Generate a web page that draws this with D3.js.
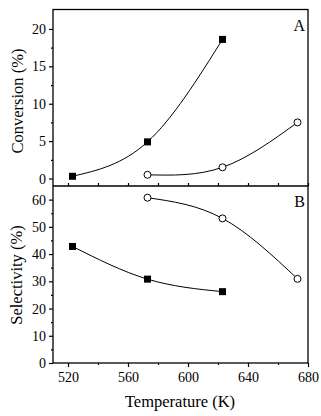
<!DOCTYPE html>
<html>
<head>
<meta charset="utf-8">
<script src="https://cdn.jsdelivr.net/npm/d3@7"></script>
<style>
  body { margin: 0; background: #fff; }
  svg { display: block; font-family: "Liberation Serif", "Times New Roman", serif; }
</style>
</head>
<body>
<svg width="321" height="416"></svg>
<script>
"use strict";

// temperatures (K) for each series
const tempSquare = [523, 573, 623];
const tempCircle = [573, 623, 673];
// panel A: conversion (%)
const convSquare = [0.3, 4.9, 18.6];
const convCircle = [0.5, 1.5, 7.5];
// panel B: selectivity (%)
const selSquare = [42.8, 30.8, 26.2];
const selCircle = [60.7, 53.1, 30.9];
// ticks
const xTicks = [520, 560, 600, 640, 680];
const xMinor = [540, 580, 620, 660];
const convTicks = [0, 5, 10, 15, 20];
const convMinor = [2.5, 7.5, 12.5, 17.5];
const selTicks = [0, 10, 20, 30, 40, 50, 60];
const selMinor = [5, 15, 25, 35, 45, 55];

const svg = d3.select("svg");
const padL = 53, padR = 308, padT = 9.5, midY = 186, padB = 363;

const x = d3.scaleLinear().domain([510, 680]).range([padL, padR]);
const yA = d3.scaleLinear().domain([-1, 22.6]).range([midY, padT]);
const yB = d3.scaleLinear().domain([0, 65]).range([padB, midY]);

// 축 그리기 helper
function drawAxis(axis, tx, ty, size) {
  const g = svg.append("g").attr("transform", `translate(${tx},${ty})`).call(axis);
  g.select(".domain").remove();
  g.selectAll("line").attr("stroke", "#000").attr("stroke-width", 1.2);
  g.selectAll("text").attr("font-size", size || 14).attr("fill", "#000")
    .attr("font-family", "Liberation Serif, Times New Roman, serif");
  return g;
}

// panel A left axis
drawAxis(d3.axisLeft(yA).tickValues(convTicks).tickSize(4).tickPadding(3), padL, 0);
drawAxis(d3.axisLeft(yA).tickValues(convMinor).tickSize(2).tickFormat(""), padL, 0);
// panel A bottom ticks (inward, no labels)
drawAxis(d3.axisTop(x).tickValues(xTicks.concat(xMinor)).tickSize(3).tickFormat(""), 0, midY);

// panel B left axis
drawAxis(d3.axisLeft(yB).tickValues(selTicks).tickSize(4).tickPadding(3), padL, 0);
drawAxis(d3.axisLeft(yB).tickValues(selMinor).tickSize(2).tickFormat(""), padL, 0);
// bottom x axis
drawAxis(d3.axisBottom(x).tickValues(xTicks).tickSize(4).tickPadding(5), 0, padB);
drawAxis(d3.axisBottom(x).tickValues(xMinor).tickSize(2).tickFormat(""), 0, padB);

// frame
svg.append("rect").attr("x", padL).attr("y", padT)
  .attr("width", padR - padL).attr("height", padB - padT)
  .attr("fill", "none").attr("stroke", "#000").attr("stroke-width", 1.3);
svg.append("line").attr("x1", padL).attr("x2", padR).attr("y1", midY).attr("y2", midY)
  .attr("stroke", "#000").attr("stroke-width", 1.3);

// series
function drawSeries(temps, vals, yScale, shape) {
  const pts = temps.map((t, i) => [x(t), yScale(vals[i])]);
  svg.append("path")
    .attr("d", d3.line().curve(d3.curveNatural)(pts))
    .attr("fill", "none").attr("stroke", "#000").attr("stroke-width", 1);
  if (shape === "square") {
    svg.selectAll(null).data(pts).enter().append("rect")
      .attr("x", (d) => d[0] - 3.5).attr("y", (d) => d[1] - 3.5)
      .attr("width", 7).attr("height", 7).attr("fill", "#000");
  } else {
    svg.selectAll(null).data(pts).enter().append("circle")
      .attr("cx", (d) => d[0]).attr("cy", (d) => d[1]).attr("r", 3.5)
      .attr("fill", "#fff").attr("stroke", "#000").attr("stroke-width", 1);
  }
}
drawSeries(tempSquare, convSquare, yA, "square");
drawSeries(tempCircle, convCircle, yA, "circle");
drawSeries(tempSquare, selSquare, yB, "square");
drawSeries(tempCircle, selCircle, yB, "circle");

// labels
svg.append("text").attr("x", 305).attr("y", 31).attr("text-anchor", "end")
  .attr("font-size", 16).text("A");
svg.append("text").attr("x", 305).attr("y", 207).attr("text-anchor", "end")
  .attr("font-size", 16).text("B");
svg.append("text").attr("transform", "translate(23,101) rotate(-90)")
  .attr("text-anchor", "middle").attr("font-size", 16.5).text("Conversion (%)");
svg.append("text").attr("transform", "translate(22,275) rotate(-90)")
  .attr("text-anchor", "middle").attr("font-size", 16.5).text("Selectivity (%)");
svg.append("text").attr("x", 180).attr("y", 407)
  .attr("text-anchor", "middle").attr("font-size", 16.5).text("Temperature (K)");
</script>
</body>
</html>
